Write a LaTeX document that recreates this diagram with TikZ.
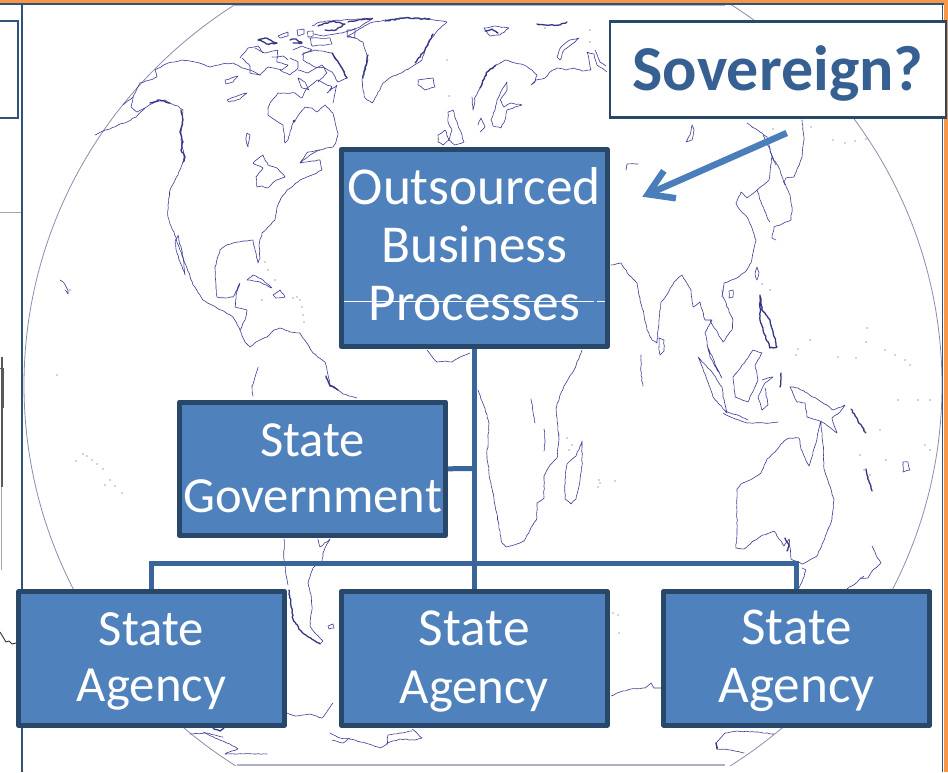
\documentclass[tikz,border=0pt]{standalone}
\usepackage{fontspec}
\setmainfont{Carlito}
\usetikzlibrary{arrows.meta,decorations.pathmorphing}
\definecolor{boxfill}{HTML}{4F81BD}
\definecolor{boxline}{HTML}{294769}
\definecolor{connline}{HTML}{3A659B}
\definecolor{titletext}{HTML}{376092}
\definecolor{arrowblue}{HTML}{4A7EBB}
\definecolor{coastc}{HTML}{3B3B95}
\definecolor{rimc}{HTML}{8C8CB0}
\definecolor{frameline}{HTML}{2F5379}
\definecolor{orangebar}{HTML}{F79646}
\tikzset{
  orgbox/.style={draw=boxline,fill=boxfill,line width=5pt,line join=round,text=white,inner sep=0pt,align=center,anchor=center},
  conn/.style={draw=connline,line width=5pt},
  coast/.style={draw=coastc,line width=.6pt,line join=round,line cap=round,decorate,decoration={random steps,segment length=3pt,amplitude=.45pt}},
  coastd/.style={draw=coastc!90!black,line width=1.3pt,line join=round,line cap=round,decorate,decoration={random steps,segment length=2pt,amplitude=.6pt}},
  rim/.style={draw=rimc,line width=.8pt},
  frame/.style={draw=frameline,line width=1.6pt}
}
\newcommand{\dotsat}[1]{\foreach \p in {#1}{\fill[coastc] \p circle[radius=.7pt];}}
\begin{document}
\begin{tikzpicture}[x=1pt,y=-1pt]
\useasboundingbox (0,0) rectangle (948,772);
\fill[white] (0,0) rectangle (948,772);
% globe rim
\begin{scope}
\clip (0,5) rectangle (948,765.6);
\draw[rim] (483,385) ellipse[x radius=459pt,y radius=452pt];
\end{scope}
\draw[rim,draw=rimc!70] (235,5) -- (725,5);
\draw[rim,draw=rimc!70,line width=1.2pt] (237,765) -- (725,765);
% North + Central America
\draw[coast] plot coordinates {(95,135) (103,131) (110,129) (118,125) (125,123) (137,116) (145,108) (155,102) (165,100) (172,104) (178,106) (183,110) (182,125) (181,140) (184,155) (183,162) (178,175) (170,190) (168,205) (168,217) (170,224) (174,232) (180,250) (187,268) (193,285) (203,300) (212,305) (217,308) (225,312) (233,317) (240,330) (245,342) (250,347) (256,342) (260,340)};
\draw[coast] plot coordinates {(123,105) (133,97) (131,107) (137,112) (145,108)};
\draw[coast] plot coordinates {(133,97) (140,83) (150,80) (157,77) (155,70) (168,63) (182,60) (195,62) (210,67) (222,64) (233,63) (242,68) (250,70) (260,75)};
\draw[coast] plot coordinates {(268,108) (270,103) (278,93) (295,93) (302,98) (307,88) (317,80) (332,87) (327,93) (337,85) (333,103)};
\draw[coast] plot coordinates {(268,108) (268,115) (275,120) (283,125) (285,143) (288,140) (293,123) (300,113) (305,107) (312,108) (317,112) (325,105) (333,113) (335,122) (338,133) (336,142) (333,147) (326,148) (320,150) (310,155) (300,163) (312,161) (320,160) (322,170) (312,175) (300,180) (293,186) (287,190) (281,198) (277,207) (275,220) (268,227) (262,233) (259,245) (260,258) (258,263) (255,250) (253,240) (243,241) (233,243) (225,246) (220,250) (215,267) (216,285) (217,297) (225,298) (233,297) (240,283) (236,295) (235,307) (247,310) (245,320) (240,330)};
\draw[coastd] plot coordinates {(181,110) (183,120) (180,132) (183,142) (181,150) (185,157) (183,162)};
\draw[coastd] plot coordinates {(150,103) (160,100) (170,103)};
\draw[coast] plot coordinates {(178,235) (183,257) (185,275) (180,262) (177,253) (175,242) (178,235)};
\draw[coast] plot coordinates {(247,133) (250,135) (248,147) (246,140) (247,133)};
\draw[coast] plot coordinates {(227,100) (237,96) (247,93) (240,99) (229,102) (227,100)};
\draw[coast] plot coordinates {(225,80) (238,76) (233,82) (226,84) (225,80)};
% Great Lakes
\draw[coast] plot coordinates {(253,163) (263,155) (268,165) (277,168) (285,177) (275,181) (268,188) (262,186) (257,187) (256,177) (263,168) (253,163)};
\draw[coast] plot coordinates {(300,163) (308,152) (320,150)};
\fill[coastc] (294,121) circle[radius=1.5pt];
% Arctic Canada
\draw[coast] plot coordinates {(240,58) (248,48) (258,46) (263,53)};
\draw[coast] plot coordinates {(242,58) (250,66) (250,73) (260,75) (268,67) (282,70) (288,65) (277,62) (278,50) (265,53) (255,48)};
\draw[coast] plot coordinates {(303,53) (315,50) (332,53) (340,65) (347,78) (338,82) (332,72) (325,68) (315,67) (303,60) (303,53)};
\draw[coastd] plot coordinates {(332,53) (340,65) (347,78)};
\draw[coast] plot coordinates {(298,70) (308,73) (322,65) (327,73) (318,82)};
\draw[coast] plot coordinates {(298,78) (305,82) (309,90) (302,88) (298,78)};
\draw[coast] plot coordinates {(280,70) (290,75) (298,68) (298,62) (290,58)};
\draw[coastd] plot coordinates {(258,40) (265,38) (277,43) (268,44) (258,40)};
\draw[coast] plot coordinates {(278,36) (288,32) (288,36) (280,38) (278,36)};
\draw[coast] plot coordinates {(297,30) (304,29) (304,34) (298,36) (297,30)};
\draw[coastd] plot coordinates {(290,40) (296,39) (302,43) (293,43)};
\draw[coast] plot coordinates {(307,32) (313,31) (313,36) (308,37) (307,32)};
\draw[coast] plot coordinates {(310,38) (330,38) (332,44) (312,46) (310,38)};
\draw[coast] plot coordinates {(312,26) (320,22) (343,20) (373,18) (360,27) (345,32) (335,34) (324,36) (314,34)};
\draw[coastd] plot coordinates {(318,26) (333,21) (345,24) (336,30) (325,30)};
\draw[coastd] plot coordinates {(348,22) (358,20) (372,19)};
\draw[coast] plot coordinates {(347,30) (355,29) (355,38) (347,36) (347,30)};
\draw[coast] plot coordinates {(293,50) (302,46) (312,50) (302,55)};
\draw[coast] plot coordinates {(272,57) (283,56) (288,60)};
% Greenland, Iceland
\draw[coast] plot coordinates {(347,37) (355,38) (363,42) (366,52) (368,60) (364,70) (362,80) (363,90) (365,98) (372,103) (377,95) (383,83) (393,76) (403,72) (413,66) (422,60) (425,50) (430,40) (438,30) (447,22) (425,19) (400,18) (385,20) (370,23) (358,30) (347,37)};
\draw[coastd] plot coordinates {(368,55) (365,70) (363,78)};
\draw[coastd] plot coordinates {(415,63) (425,50) (433,34)};
\draw[coastd] plot coordinates {(385,21) (405,18) (430,19)};
\draw[coast] plot coordinates {(418,80) (425,79) (433,78) (435,87) (425,90) (418,85) (418,80)};
% UK, Ireland, W Europe
\draw[coast] plot coordinates {(448,112) (453,110) (456,120) (460,130) (464,142) (455,145) (449,140) (452,130) (448,122) (448,112)};
\draw[coast] plot coordinates {(438,135) (445,130) (449,140) (443,145) (438,142) (438,135)};
\draw[coast] plot coordinates {(472,97) (473,110) (475,100)};
% Scandinavia, Baltic, Russia north
\draw[coast] plot coordinates {(474,100) (480,88) (487,72) (496,65) (506,60) (515,63) (524,65) (532,70) (537,75) (535,82) (531,85) (536,80) (545,78) (550,72) (557,68) (566,70) (574,68) (582,71) (591,70) (589,60) (587,52) (594,54) (597,65) (607,72)};
\draw[coastd] plot coordinates {(480,88) (487,72) (496,65)};
\draw[coast] plot coordinates {(507,82) (503,88) (497,100) (495,110) (491,120) (493,126) (501,128) (505,120) (507,110) (515,107) (522,105) (511,103) (504,107) (500,100) (507,90) (507,82)};
\draw[coast] plot coordinates {(478,125) (481,118) (485,127) (480,132)};
\draw[coast] plot coordinates {(557,57) (561,47) (570,40) (579,38) (572,44) (564,50) (560,60) (557,57)};
\draw[coast] plot coordinates {(595,50) (600,62) (606,66)};
\draw[coastd] plot coordinates {(537,24) (550,25) (560,25) (567,22)};
\draw[coastd] plot coordinates {(485,31) (492,29) (498,33)};
\draw[coast] plot coordinates {(484,28) (495,26) (509,28) (500,35) (490,36) (484,28)};
% Asia south + east
\draw[coast] plot coordinates {(611,265) (621,263) (629,275) (637,283) (640,300) (644,315) (647,330) (652,340) (657,343) (659,320) (661,302) (668,293) (674,282) (682,275) (691,290) (693,307) (700,302) (705,320) (712,320) (708,327) (705,333) (710,357) (722,378) (718,370) (707,345)};
\draw[coast] plot coordinates {(710,320) (723,342) (732,330) (733,320) (723,297) (722,290)};
\draw[coast] plot coordinates {(722,297) (724,283) (737,278) (745,272) (751,263) (756,240) (752,228) (747,217) (740,210) (736,203) (741,192) (747,198) (757,190) (769,180) (772,157) (767,137) (760,132) (747,123)};
\draw[coast] plot coordinates {(757,190) (762,205) (767,217) (770,222)};
\draw[coast] plot coordinates {(784,182) (790,195) (792,207) (791,220) (782,224) (774,227) (772,238) (776,240)};
\draw[coast] plot coordinates {(802,120) (804,140) (802,157) (794,177) (786,178) (784,182)};
\draw[coast] plot coordinates {(772,157) (780,170) (785,185)};
\draw[coast] plot coordinates {(763,135) (770,150) (776,165)};
\draw[coast] plot coordinates {(692,125) (690,135) (686,142) (692,140) (694,130) (692,125)};
\draw[coast] plot coordinates {(626,170) (627,164) (638,164)};
\draw[coast] plot coordinates {(659,338) (664,340) (664,351) (660,355) (659,347) (659,338)};
\draw[coast] plot coordinates {(757,267) (759,272) (757,280) (755,274) (757,267)};
\draw[coast] plot coordinates {(729,291) (733,290) (733,297) (729,298) (729,291)};
\draw[coast] plot coordinates {(641,355) (641,375) (643,386)};
% SE Asia islands
\draw[coast] plot coordinates {(698,357) (712,372) (722,387) (723,397) (727,413) (713,397) (707,380) (698,357)};
\draw[coast] plot coordinates {(723,413) (733,418) (747,423) (770,423) (778,422)};
\draw[coast] plot coordinates {(725,411) (740,416) (748,420)};
\draw[coast] plot coordinates {(753,350) (748,358) (733,377) (735,397) (748,402) (758,380) (755,365) (762,353) (753,350)};
\draw[coast] plot coordinates {(762,380) (773,377) (765,383) (758,397) (762,410) (768,405) (765,388)};
\draw[coastd] plot coordinates {(760,295) (762,310) (770,320) (777,347) (770,348) (763,330) (760,320) (760,295)};
\draw[coast] plot coordinates {(790,387) (798,388) (805,392) (827,405) (833,410) (845,405) (840,412) (832,418) (837,433) (822,422) (807,417) (805,403) (797,402) (790,387)};
\draw[coastd] plot coordinates {(781,373) (780,387)};
\draw[coastd] plot coordinates {(851,409) (858,421) (866,433)};
\draw[coastd] plot coordinates {(866,469) (869,482) (872,491)};
\draw[coast] plot coordinates {(903,462) (908,462) (910,470) (903,472) (903,462)};
% South America
\draw[coast] plot coordinates {(252,386) (253,396) };
\draw[coast] plot coordinates {(258,367) (252,386)};
\draw[coast] plot coordinates {(267,337) (274,330) (280,328) (290,332) (300,333) (306,342) (313,353) (325,362) (328,375) (330,385) (333,386) (343,394) (357,398)};
\draw[coast] plot coordinates {(260,340) (267,337)};
\draw[coastd] plot coordinates {(326,376) (330,386) (338,390)};
\draw[coast] plot coordinates {(318,539) (320,547) (330,539)};
\draw[coast] plot coordinates {(330,539) (325,548) (323,553) (322,561) (313,568) (310,577) (308,583) (311,595) (312,606) (310,626) (316,634) (323,641) (320,644)};
\draw[coast] plot coordinates {(284,539) (284,559) (286,575) (288,585)};
\draw[coastd] plot coordinates {(289,590) (291,605) (293,619) (300,630) (307,636) (320,644)};
\draw[coast] plot coordinates {(328,626) (333,624) (334,628) (329,629) (328,626)};
% Africa
\draw[coast] plot coordinates {(427,350) (433,358) (437,362) (445,361) (452,362) (460,357) (470,353)};
\draw[coast] plot coordinates {(478,390) (484,406) (489,423) (487,456) (490,480) (494,499) (502,543) (506,547) (514,545) (524,541) (530,530) (537,518) (537,503) (544,498) (544,476) (550,465) (557,458) (559,439) (556,409) (560,395) (564,386) (574,370) (582,350)};
\draw[coast] plot coordinates {(531,399) (533,412) (535,423)};
\draw[coast] plot coordinates {(544,429) (545,440) (544,451)};
\draw[coast] plot coordinates {(582,441) (576,456) (567,464) (565,480) (565,499) (571,504) (576,499) (580,480) (582,466) (582,441)};
% Australia, Tasmania, NZ
\draw[coast] plot coordinates {(737,489) (741,484) (750,480) (761,473) (767,459) (775,452) (784,441) (790,438) (799,438) (801,449) (809,466) (816,443) (821,421) (823,445) (824,469) (834,499) (832,519) (825,538) (817,556) (802,564) (791,559) (789,539) (784,546) (774,531) (761,536) (752,542) (744,549) (736,548) (737,529) (737,489)};
\draw[coast] plot coordinates {(802,568) (806,570) (802,582) (799,588)};
\draw[coastd] plot coordinates {(785,538) (789,546) (787,551)};
\draw[coast] plot coordinates {(872,546) (876,555) (881,563) (873,570) (868,578) (860,578)};
\draw[coast] plot coordinates {(864,576) (855,584) (847,589)};
% Antarctica
\draw[coast] plot coordinates {(190,734) (205,733) (215,738) (230,744) (238,749) (225,754) (267,754)};
\draw[coast] plot coordinates {(203,732) (215,735) (223,737)};
\draw[coast] plot coordinates {(287,713) (295,716) (310,714) (322,718) (328,710) (333,703)};
\draw[coast] plot coordinates {(330,733) (340,738) (355,740) (380,748) (390,742) (400,739) (415,740) (422,738) (412,729)};
\draw[coast] plot coordinates {(332,740) (343,743) (350,738)};
\draw[coast] plot coordinates {(387,745) (388,735) (400,733) (412,731)};
\draw[coast] plot coordinates {(611,696) (620,692) (631,689) (645,688) (651,683) (654,688) (661,688)};
\draw[coast] plot coordinates {(716,743) (725,733) (737,731) (755,732) (774,734)};
\draw[coast] plot coordinates {(716,743) (717,749) (730,750) (744,753)};
\draw[coastd] plot coordinates {(716,743) (717,749)};
\draw[coastd] plot coordinates {(213,728) (220,731) (224,728)};
% Caribbean
\draw[coast] plot coordinates {(247,280) (253,275) (263,280) (272,288) (260,282) (247,280)};
\draw[coast] plot coordinates {(273,295) (280,290) (285,297) (276,298) (273,295)};
\draw[coast] plot coordinates {(60,280) (64,283) (68,290) (68,294) (65,290)};
% scattered islands
\dotsat{(300,300),(302,307),(303,315),(304,322),(265,262),(268,270),(275,280),(262,300),(293,298),(297,297),
(83,454),(87,456),(92,460),(97,464),(103,469),(76,461),(110,480),(115,486),(122,493),(105,485),
(615,481),(600,483),(599,480),(598,487),(569,450),(572,445),(567,438),(559,435),(613,613),(618,615),(619,633),
(796,355),(798,349),(810,340),(838,357),(856,358),(866,342),(885,350),(895,355),(905,360),(910,365),(867,328),
(898,400),(860,455),(864,470),(870,475),(880,430),(886,460),(925,445),(930,450),(918,400),(930,400),(762,284),(770,290),
(773,129),(811,127),(833,140),(845,143),(855,141),(866,139),(447,60),(449,96),(545,28),(590,30),(590,42),(57,375),(70,290)}
% left edge remnants
\draw[draw=gray!70,line width=1pt] (0,212) -- (22,212);
\draw[draw=black!65,line width=1.2pt] (2,357) -- (2,487);
\draw[draw=black!65,line width=.9pt] (0,368) -- (3.5,368) -- (3.5,408);
\draw[draw=black!35,line width=1pt] (1,487) -- (1,570);
\draw[draw=black!80,line width=.9pt,line join=round] plot coordinates {(0,632) (3,637) (6,642) (9,641) (12,644) (16,643)};
% frame
\draw[frame] (22,4) -- (22,772);
\draw[frame] (942.5,4) -- (942.5,772);
\draw[frame,line width=1.5pt] (0,4.2) -- (948,4.2);
\fill[orangebar] (0,0) rectangle (948,3.3);
\fill[orangebar] (944,0) rectangle (948,772);
% side panel box
\node[draw=frameline,fill=white,line width=1.6pt,minimum width=40pt,minimum height=97pt,inner sep=0pt] (sidebox) at (-2,69.5) {};
% org boxes
\node[orgbox,font=\fontsize{53.3}{58}\selectfont,text width=266pt,minimum height=197pt,text height=10pt,text depth=98pt] (obp) at (474.2,248) {Outsourced\\Business\\Processes};
\node[orgbox,font=\fontsize{50.6}{56}\selectfont,text width=266pt,minimum height=133.5pt,text height=10pt,text depth=35.5pt] (gov) at (312.5,468.75) {State\\Government};
\node[orgbox,font=\fontsize{50.7}{56}\selectfont,text width=266pt,minimum height=133.5pt,text height=10pt,text depth=35.8pt] (ag1) at (151.5,658.4) {State\\Agency};
\node[orgbox,font=\fontsize{50.7}{57.5}\selectfont,text width=266pt,minimum height=133.5pt,text height=10pt,text depth=35.8pt] (ag2) at (474.2,658.4) {{\fontsize{53.5}{57.5}\selectfont State}\\Agency};
\node[orgbox,font=\fontsize{53.2}{58}\selectfont,text width=266pt,minimum height=133.5pt,text height=10pt,text depth=38.4pt] (ag3) at (796.7,658.4) {State\\Agency};
\node[draw=boxline,fill=white,line width=2.5pt,minimum width=336pt,minimum height=96pt,inner sep=0pt,text=titletext,font=\fontsize{64}{70}\selectfont\bfseries,text height=44pt,text depth=2.6pt] (sov) at (778,69.3) {Sovereign?};
% connectors
\coordinate (busl) at (151.5,563.7);
\coordinate (busr) at (796.7,563.7);
\coordinate (govj) at (474.2,468.7);
\draw[conn] (obp.south) -- (ag2.north);
\draw[conn] (gov.east) -- (govj);
\draw[conn,line join=miter] (ag1.north) -- (busl) -- (busr) -- (ag3.north);
% arrow
\coordinate (arrstart) at (786.7,133);
\coordinate (arrend) at (642.3,196.7);
\draw[draw=arrowblue,line width=6.5pt,-{Straight Barb[length=24pt,width=30pt,line width=6.5pt]}] (arrstart) -- (arrend);
% white scan line through Processes
\draw[white,line width=.8pt] (343.5,301) -- (594,301);
\draw[white,line width=.8pt] (597,301) -- (605,301);
\end{tikzpicture}
\end{document}
